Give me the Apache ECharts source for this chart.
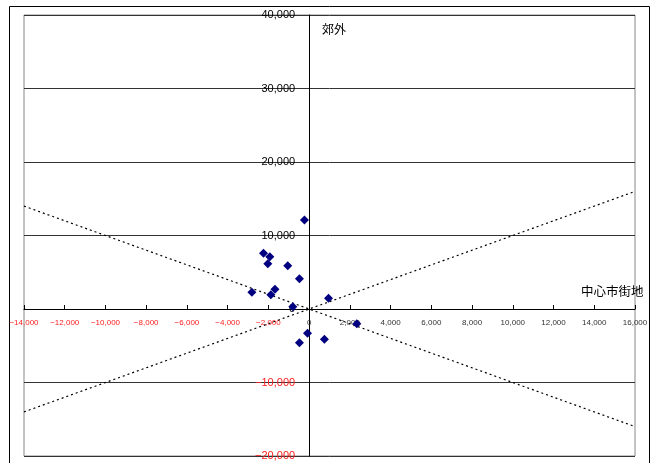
<!DOCTYPE html>
<html>
<head>
<meta charset="utf-8">
<script src="https://cdn.jsdelivr.net/npm/echarts@6/dist/echarts.min.js"></script>
<style>
  html, body { margin: 0; padding: 0; background: #fff; }
  #chart { width: 655px; height: 463px; }
</style>
</head>
<body>
<div id="chart"></div>
<script>
// 中心市街地 (x) と 郊外 (y) の変化量
const xValues = [-230, -2240, -1930, -2030, -1050, -475, -2810, -1680, -1880, -800, 950, 2340, -80, -475, 750];
const yValues = [12100, 7570, 7120, 6170, 5900, 4130, 2270, 2680, 1950, 320, 1450, -2000, -3300, -4580, -4120];

// 補助線 (y = x, y = -x)
const lineUpX = [-14000, 16000];
const lineUpY = [-14000, 16000];
const lineDownX = [-14000, 16000];
const lineDownY = [14000, -16000];

const xName = '中心市街地';
const yName = '郊外';

const X_MIN = -14000, X_MAX = 16000, Y_MIN = -20000, Y_MAX = 40000;
const G_LEFT = 24, G_TOP = 15, G_W = 611, G_H = 441;
// 軸を原点に置くためのオフセット
const yAxisOffset = -G_W * (0 - X_MIN) / (X_MAX - X_MIN);
const xAxisOffset = -G_H * (0 - Y_MIN) / (Y_MAX - Y_MIN);

const fmt = v => v === 0 ? '0' : (v < 0 ? '\u2212' : '') + Math.abs(v).toLocaleString('en-US');

const chart = echarts.init(document.getElementById('chart'));
chart.setOption({
  animation: false,
  backgroundColor: '#fff',
  grid: {
    left: G_LEFT, top: G_TOP, width: G_W, height: G_H,
    containLabel: false, outerBoundsMode: 'none',
    show: true, borderColor: '#888', borderWidth: 1
  },
  xAxis: {
    type: 'value', min: X_MIN, max: X_MAX, interval: 2000,
    position: 'bottom', offset: xAxisOffset,
    axisLine: { onZero: false, lineStyle: { color: '#000', width: 1 } },
    axisTick: { show: true, inside: true, length: 4, lineStyle: { color: '#000' } },
    splitLine: { show: false },
    axisLabel: {
      fontSize: 8, margin: 10, fontFamily: 'Liberation Sans, Arial, sans-serif',
      formatter: fmt,
      color: v => v < 0 ? '#ff2020' : '#333'
    }
  },
  yAxis: {
    type: 'value', min: Y_MIN, max: Y_MAX, interval: 10000,
    position: 'left', offset: yAxisOffset,
    axisLine: { onZero: false, lineStyle: { color: '#000', width: 1 } },
    axisTick: { show: false },
    splitLine: { show: true, lineStyle: { color: '#333', width: 1 } },
    axisLabel: {
      fontSize: 11, margin: 14, fontFamily: 'Liberation Sans, Arial, sans-serif',
      formatter: fmt,
      color: v => v < 0 ? '#ff2020' : '#000'
    }
  },
  graphic: [
    { type: 'rect', shape: { x: 9.5, y: 6.5, width: 640, height: 470 }, style: { fill: 'none', stroke: '#000', lineWidth: 1 }, silent: true },
    { type: 'text', left: 322, top: 23, style: { text: yName, fontSize: 12, fill: '#000', fontFamily: 'Noto Sans CJK JP' } },
    { type: 'text', left: 581, top: 285, style: { text: xName, fontSize: 12.5, fill: '#000', fontFamily: 'Noto Sans CJK JP' } }
  ],
  series: [
    {
      type: 'line', data: lineUpX.map((x, i) => [x, lineUpY[i]]),
      symbol: 'none', lineStyle: { color: '#000', width: 1.2, type: [2, 3] }, z: 3
    },
    {
      type: 'line', data: lineDownX.map((x, i) => [x, lineDownY[i]]),
      symbol: 'none', lineStyle: { color: '#000', width: 1.2, type: [2, 3] }, z: 3
    },
    {
      type: 'scatter', data: xValues.map((x, i) => [x, yValues[i]]),
      symbol: 'diamond', symbolSize: 9, itemStyle: { color: '#000080', opacity: 1 }, z: 4
    }
  ]
});
</script>
</body>
</html>
